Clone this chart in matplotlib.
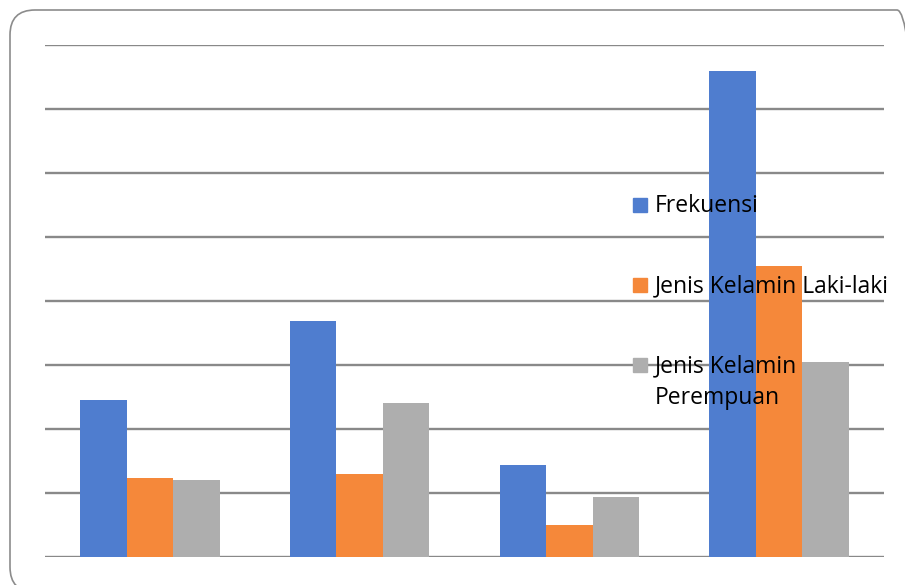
import matplotlib.pyplot as plt
import numpy as np
from matplotlib.patches import FancyBboxPatch, Rectangle

kategori = ['A', 'B', 'C', 'D']
frekuensi = [2.45, 3.69, 1.44, 7.59]
laki = [1.24, 1.30, 0.50, 4.55]
perempuan = [1.20, 2.40, 0.94, 3.05]
labels = ['Frekuensi', 'Jenis Kelamin Laki-laki', 'Jenis Kelamin\nPerempuan']
colors = ['#4F7DCF', '#F5883A', '#AEAEAE']

plt.rcParams['font.family'] = ['Open Sans', 'DejaVu Sans']

W, H = 905, 585
fig = plt.figure(figsize=(W / 100, H / 100), dpi=100)
ax = fig.add_axes([45 / W, 28 / H, 839 / W, 512 / H])

x = np.arange(len(kategori))
w = 0.222
series = [frekuensi, laki, perempuan]
for i, vals in enumerate(series):
    ax.bar(x + (i - 1) * w, vals, w, color=colors[i], label=labels[i], zorder=3)

ax.set_xlim(-0.5, 3.5)
ax.set_ylim(0, 8)
ax.set_yticks(np.arange(0, 9, 1))
ax.grid(axis='y', color='#898989', linewidth=1.7, zorder=0)
ax.set_xticks([])
ax.tick_params(left=False, labelleft=False)
for s in ax.spines.values():
    s.set_visible(False)

# legend drawn by hand: marker sits on the first line of each label
leg_y = [205, 285, 365]
line_h = 32
for lab, c, yc in zip(labels, colors, leg_y):
    fig.patches.append(Rectangle((633 / W, 1 - (yc + 7) / H), 14 / W, 14 / H,
                                 transform=fig.transFigure, color=c, zorder=6))
    extra = lab.count('\n') * line_h  # baseline is taken from the last line
    fig.text(655 / W, 1 - (yc + 7 + extra) / H, lab, fontsize=16.5,
             va='baseline', ha='left', linespacing=1.4, color='black', zorder=7)

border = FancyBboxPatch((10 / W, -7 / H), 912 / W, 582 / H,
                        boxstyle='round,pad=0,rounding_size=%f' % (25 / W),
                        transform=fig.transFigure, fill=False,
                        edgecolor='#8C8C8C', linewidth=1.2, clip_on=False,
                        mutation_aspect=W / H)
fig.patches.append(border)

fig.savefig('out.png', dpi=100)
